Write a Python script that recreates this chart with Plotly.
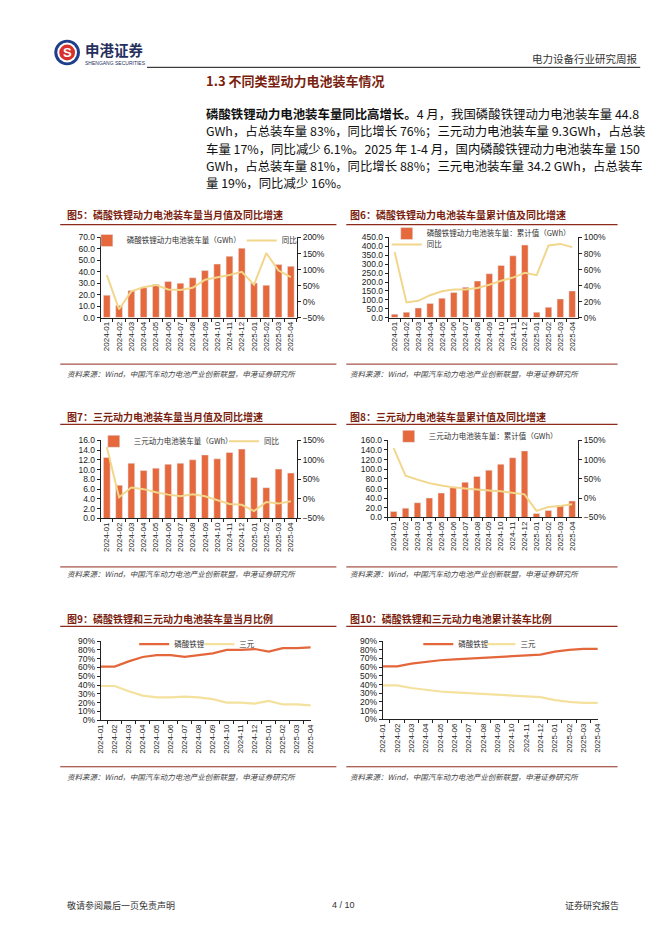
import plotly.graph_objects as go

W, H = 662, 936

def px(x):
    return x / W

def py(y):
    return 1 - y / H

# ---------------- data ----------------
months = ["2024-01", "2024-02", "2024-03", "2024-04", "2024-05", "2024-06", "2024-07", "2024-08",
          "2024-09", "2024-10", "2024-11", "2024-12", "2025-01", "2025-02", "2025-03", "2025-04"]

lfp_month = [19.6, 10.6, 23.6, 26.1, 29.0, 31.6, 30.1, 34.8, 41.1, 46.8, 53.6, 60.7, 30.2, 28.3, 46.3, 44.8]
lfp_month_yoy = [83, -24, 32, 45, 52, 38, 36, 43, 68, 75, 83, 93, 53, 151, 97, 76]

lfp_cum = [19.6, 30.3, 53.9, 80.0, 109.0, 140.6, 170.7, 205.5, 246.6, 293.4, 347.0, 407.7, 30.2, 58.5, 104.8, 150.0]
lfp_cum_yoy = [82, 19, 21, 28, 33, 35, 35, 37, 41, 46, 50, 56, 53, 90, 92, 88]

ncm_month = [12.5, 6.8, 11.3, 9.8, 10.3, 11.1, 11.3, 12.0, 13.0, 12.2, 13.5, 14.2, 8.4, 6.3, 10.1, 9.3]
ncm_month_yoy = [133, 4, 29, 25, 17, 11, 7, 12, 7, -2, -13, -15, -31, -8, -12, -6.1]

ncm_cum = [12.5, 19.3, 30.6, 40.4, 50.7, 61.8, 73.1, 85.1, 98.1, 110.3, 123.8, 138.0, 8.4, 14.7, 24.8, 34.2]
ncm_cum_yoy = [130, 58, 48, 39, 33, 28, 25, 22, 20, 18, 14, 10, -33, -23, -20, -16]

share_month_lfp = [61, 61, 67, 72, 74, 74, 72, 74, 76, 80, 80, 81, 78, 82, 82, 83]
share_month_ncm = [39, 39, 33, 28, 26, 26, 27, 26, 24, 20, 20, 19, 22, 18, 18, 17]

share_cum_lfp = [61, 61, 64, 66, 68, 69, 70, 71, 71.5, 72.5, 73.5, 74.5, 78, 80, 81, 81]
share_cum_ncm = [39, 39, 36, 34, 32, 31, 30, 29.5, 28.5, 27.5, 26.5, 25.5, 22, 20, 19, 19]

BAR = "#E5693D"
YOY = "#F2D68C"
LFP_LINE = "#E4673C"
NCM_LINE = "#F4E19E"
DARKRED = "#7A1F10"
RULE = "#8E2A1C"
FONT = "Noto Sans CJK SC"
NUM = "Liberation Sans"

fig = go.Figure()
layout = dict(width=W, height=H, margin=dict(l=0, r=0, t=0, b=0),
              paper_bgcolor="white", plot_bgcolor="rgba(0,0,0,0)",
              showlegend=True, font=dict(family=FONT, size=8, color="#222"))

def xaxis_def(x0, x1, yanchor):
    return dict(domain=[px(x0), px(x1)], anchor=yanchor, type="category",
                categoryorder="array", categoryarray=months,
                tickangle=-90, tickfont=dict(family=NUM, size=8, color="#222"),
                showline=True, linecolor="#222", linewidth=1,
                ticks="outside", ticklen=3, tickcolor="#222", tickson="boundaries",
                showgrid=False, zeroline=False, fixedrange=True)

def yaxis_def(y0, y1, xanchor, rng, dtick, fmt, suffix="", side="left", overlay=None):
    d = dict(domain=[py(y1), py(y0)], anchor=xanchor, range=rng, dtick=dtick, tick0=rng[0],
             tickformat=fmt, ticksuffix=suffix, side=side,
             tickfont=dict(family=NUM, size=8.5, color="#222"),
             showline=True, linecolor="#222", linewidth=1,
             ticks="outside", ticklen=3, tickcolor="#222",
             showgrid=False, zeroline=False, fixedrange=True)
    if overlay:
        d["overlaying"] = overlay
    return d

def legend_def(x_text, y):
    # plotly puts the entry text ~40px right of the legend's left edge
    return dict(x=px(x_text - 40), y=py(y), xanchor="left", yanchor="middle", orientation="h",
                bgcolor="rgba(0,0,0,0)", font=dict(family=FONT, size=7.5, color="#333"),
                itemwidth=30, tracegroupgap=0)

# chart boxes: (x0, x1, y0, y1)
boxes = {
    1: (98, 297, 235, 316),
    2: (390, 582, 235, 316),
    3: (98, 297, 440, 519),
    4: (389, 582, 440, 518),
    5: (98, 311, 643, 723),
    6: (384, 602, 643, 722),
}

# ---- chart 1 (图5)
b = boxes[1]
layout["xaxis"] = xaxis_def(b[0], b[1], "y")
layout["yaxis"] = yaxis_def(b[2], b[3], "x", [0, 70], 10, ".1f")
layout["yaxis2"] = yaxis_def(b[2], b[3], "x", [-50, 200], 50, "d", "%", "right", "y")
fig.add_trace(go.Bar(x=months, y=lfp_month, name="磷酸铁锂动力电池装车量（GWh）", marker_color=BAR,
                     xaxis="x", yaxis="y", width=0.55, legend="legend"))
fig.add_trace(go.Scatter(x=months, y=lfp_month_yoy, name="同比", mode="lines",
                         line=dict(color=YOY, width=2), xaxis="x", yaxis="y2", legend="legend2"))
layout["legend"] = legend_def(124, 238)
layout["legend2"] = legend_def(281, 238)

# ---- chart 2 (图6)
b = boxes[2]
layout["xaxis2"] = xaxis_def(b[0], b[1], "y3")
layout["yaxis3"] = yaxis_def(b[2], b[3], "x2", [0, 450], 50, ".1f")
layout["yaxis4"] = yaxis_def(b[2], b[3], "x2", [0, 100], 20, "d", "%", "right", "y3")
fig.add_trace(go.Bar(x=months, y=lfp_cum, name="磷酸铁锂动力电池装车量：累计值（GWh）", marker_color=BAR,
                     xaxis="x2", yaxis="y3", width=0.55, legend="legend3"))
fig.add_trace(go.Scatter(x=months, y=lfp_cum_yoy, name="同比", mode="lines",
                         line=dict(color=YOY, width=2), xaxis="x2", yaxis="y4", legend="legend9"))
layout["legend3"] = legend_def(428, 231)
layout["legend9"] = legend_def(428, 242)

# ---- chart 3 (图7)
b = boxes[3]
layout["xaxis3"] = xaxis_def(b[0], b[1], "y5")
layout["yaxis5"] = yaxis_def(b[2], b[3], "x3", [0, 16], 2, ".1f")
layout["yaxis6"] = yaxis_def(b[2], b[3], "x3", [-50, 150], 50, "d", "%", "right", "y5")
fig.add_trace(go.Bar(x=months, y=ncm_month, name="三元动力电池装车量（GWh）", marker_color=BAR,
                     xaxis="x3", yaxis="y5", width=0.55, legend="legend4"))
fig.add_trace(go.Scatter(x=months, y=ncm_month_yoy, name="同比", mode="lines",
                         line=dict(color=YOY, width=2), xaxis="x3", yaxis="y6", legend="legend5"))
layout["legend4"] = legend_def(131, 441)
layout["legend5"] = legend_def(263, 441)

# ---- chart 4 (图8)
b = boxes[4]
layout["xaxis4"] = xaxis_def(b[0], b[1], "y7")
layout["yaxis7"] = yaxis_def(b[2], b[3], "x4", [0, 160], 20, ".1f")
layout["yaxis8"] = yaxis_def(b[2], b[3], "x4", [-50, 150], 50, "d", "%", "right", "y7")
fig.add_trace(go.Bar(x=months, y=ncm_cum, name="三元动力电池装车量：累计值（GWh）", marker_color=BAR,
                     xaxis="x4", yaxis="y7", width=0.55, legend="legend6"))
fig.add_trace(go.Scatter(x=months, y=ncm_cum_yoy, name="同比", mode="lines", showlegend=False,
                         line=dict(color=YOY, width=2), xaxis="x4", yaxis="y8"))
layout["legend6"] = legend_def(430, 436)

# ---- chart 5 (图9)
b = boxes[5]
layout["xaxis5"] = xaxis_def(b[0], b[1], "y9")
layout["yaxis9"] = yaxis_def(b[2], b[3], "x5", [0, 90], 10, "d", "%")
fig.add_trace(go.Scatter(x=months, y=share_month_lfp, name="磷酸铁锂", mode="lines",
                         line=dict(color=LFP_LINE, width=2.2), xaxis="x5", yaxis="y9", legend="legend7"))
fig.add_trace(go.Scatter(x=months, y=share_month_ncm, name="三元", mode="lines",
                         line=dict(color=NCM_LINE, width=2.2), xaxis="x5", yaxis="y9", legend="legend10"))
layout["legend7"] = legend_def(172, 646)
layout["legend10"] = legend_def(238, 646)

# ---- chart 6 (图10)
b = boxes[6]
layout["xaxis6"] = xaxis_def(b[0], b[1], "y10")
layout["yaxis10"] = yaxis_def(b[2], b[3], "x6", [0, 90], 10, "d", "%")
fig.add_trace(go.Scatter(x=months, y=share_cum_lfp, name="磷酸铁锂", mode="lines",
                         line=dict(color=LFP_LINE, width=2.2), xaxis="x6", yaxis="y10", legend="legend8"))
fig.add_trace(go.Scatter(x=months, y=share_cum_ncm, name="三元", mode="lines",
                         line=dict(color=NCM_LINE, width=2.2), xaxis="x6", yaxis="y10", legend="legend11"))
layout["legend8"] = legend_def(460, 646)
layout["legend11"] = legend_def(523, 646)

# ---------------- page text ----------------
ann = []
shapes = []

def text(x, y, s, size, color="#222", family=FONT, xanchor="left", yanchor="middle"):
    ann.append(dict(x=px(x), y=py(y), xref="paper", yref="paper", text=s, showarrow=False,
                    xanchor=xanchor, yanchor=yanchor, font=dict(family=family, size=size, color=color)))

def hline(x0, x1, y, color, width):
    shapes.append(dict(type="line", xref="paper", yref="paper", x0=px(x0), x1=px(x1),
                       y0=py(y), y1=py(y), line=dict(color=color, width=width)))

# logo
shapes.append(dict(type="circle", xref="paper", yref="paper", x0=px(51), x1=px(77), y0=py(61), y1=py(35),
                   fillcolor="#1E3E8C", line=dict(width=0)))
shapes.append(dict(type="circle", xref="paper", yref="paper", x0=px(54), x1=px(74), y0=py(58), y1=py(38),
                   fillcolor="white", line=dict(width=0)))
shapes.append(dict(type="circle", xref="paper", yref="paper", x0=px(56), x1=px(72), y0=py(56), y1=py(40),
                   fillcolor="#D8302B", line=dict(width=0)))
text(64, 48, "<b>S</b>", 13, "white", "Liberation Sans", "center")
text(80, 45, "<b>申港证券</b>", 14.5, "#26305E")
text(80, 58.5, "SHENGANG SECURITIES", 5, "#26305E", "Liberation Sans")

text(645, 54, "电力设备行业研究周报", 10.5, "#333", FONT, "right")
hline(145, 645, 63, "#111", 1)

text(203, 76, "<b>1.3 不同类型动力电池装车情况</b>", 13, DARKRED)

para = [
    "<b>磷酸铁锂动力电池装车量同比高增长。</b>4 月，我国磷酸铁锂动力电池装车量 44.8",
    "GWh，占总装车量 83%，同比增长 76%；三元动力电池装车量 9.3GWh，占总装",
    "车量 17%，同比减少 6.1%。2025 年 1-4 月，国内磷酸铁锂动力电池装车量 150",
    "GWh，占总装车量 81%，同比增长 88%；三元电池装车量 34.2 GWh，占总装车",
    "量 19%，同比减少 16%。",
]
for i, line in enumerate(para):
    text(203, 110 + i * 17.6, line, 12.4, "#111")

titles = [
    (62, 212, "图5：磷酸铁锂动力电池装车量当月值及同比增速"),
    (349, 212, "图6：磷酸铁锂动力电池装车量累计值及同比增速"),
    (62, 416, "图7：三元动力电池装车量当月值及同比增速"),
    (349, 416, "图8：三元动力电池装车量累计值及同比增速"),
    (62, 620, "图9：磷酸铁锂和三元动力电池装车量当月比例"),
    (349, 620, "图10：磷酸铁锂和三元动力电池累计装车比例"),
]
for x, y, s in titles:
    text(x, y, "<b>" + s + "</b>", 10, DARKRED)

for y in (222, 424, 628):
    hline(57, 337, y, RULE, 1.3)
    hline(347, 622, y, RULE, 1.3)

src = "<i>资料来源：Wind，中国汽车动力电池产业创新联盟，申港证券研究所</i>"
for y_line, y_txt in ((363, 372), (568, 575), (770, 780)):
    hline(57, 337, y_line, RULE, 1)
    hline(347, 622, y_line, RULE, 1)
    text(62, y_txt, src, 7.5, "#444")
    text(349, y_txt, src, 7.5, "#444")

text(62, 910, "敬请参阅最后一页免责声明", 9, "#333")
text(344, 910, "4 / 10", 9, "#333", NUM, "center")
text(625, 910, "证券研究报告", 9, "#333", FONT, "right")

layout["annotations"] = ann
layout["shapes"] = shapes
fig.update_layout(**layout)
fig.write_html("out.html", config={"displayModeBar": False},
               post_script="document.body.style.margin='0';document.body.style.overflow='hidden';")
